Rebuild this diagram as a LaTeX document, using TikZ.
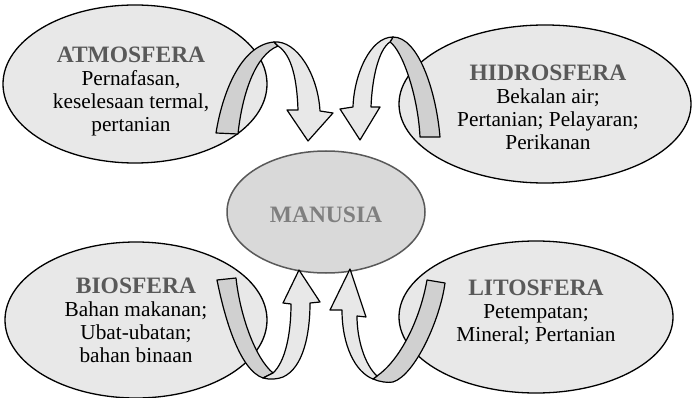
\documentclass[tikz,border=0pt]{standalone}
\usepackage{fontspec}
\setmainfont{Liberation Serif}
\usetikzlibrary{shapes.geometric}

\definecolor{sphereFill}{HTML}{E8E8E8}
\definecolor{humanFill}{HTML}{D9D9D9}
\definecolor{humanLine}{HTML}{595959}
\definecolor{titleGray}{HTML}{595959}
\definecolor{humanText}{HTML}{7F7F7F}
\definecolor{bandLight}{HTML}{E8E8E8}
\definecolor{bandDark}{HTML}{D0D0D0}

\newcommand{\spheretitle}[1]{{\fontsize{23.5}{23}\selectfont\bfseries\color{titleGray}#1}}

\begin{document}
\begin{tikzpicture}[
    x=1pt, y=-1pt,
    % Styles
    sphere/.style={ % Outer ellipse
        ellipse,
        draw,
        line width=1.3pt,
        fill=sphereFill,
        inner sep=0pt
    },
    spheretext/.style={ % Text inside an outer ellipse
        inner sep=0pt,
        align=center,
        font=\fontsize{21.3}{23}\selectfont
    },
    human/.style={ % Centre ellipse
        ellipse,
        draw=humanLine,
        line width=1.5pt,
        fill=humanFill,
        inner sep=0pt
    },
    front/.style={ % Front face of a curved arrow
        draw,
        line width=1.2pt,
        line join=round,
        fill=bandLight
    },
    back/.style={ % Back face of a curved arrow
        front,
        fill=bandDark
    }
]
    \useasboundingbox (0,0) rectangle (692,398);

    % Spheres
    \node[sphere, minimum width=264pt, minimum height=158pt] (atmo) at (135,84) {};
    \node[sphere, minimum width=292pt, minimum height=158pt] (hidro) at (545,104) {};
    \node[sphere, minimum width=262pt, minimum height=156pt] (bio) at (136,320) {};
    \node[sphere, minimum width=274pt, minimum height=152pt] (lito) at (536,317) {};

    \node[spheretext] (atmotext) at (131,91)
        {\spheretitle{ATMOSFERA}\\Pernafasan,\\keselesaan termal,\\pertanian};
    \node[spheretext] (hidrotext) at (548,107)
        {\spheretitle{HIDROSFERA}\\Bekalan air;\\Pertanian; Pelayaran;\\Perikanan};
    \node[spheretext] (biotext) at (136,320)
        {\spheretitle{BIOSFERA}\\Bahan makanan;\\Ubat-ubatan;\\bahan binaan};
    \node[spheretext] (litotext) at (536,312)
        {\spheretitle{LITOSFERA}\\Petempatan;\\Mineral; Pertanian};

    % Human
    \node[human, minimum width=198pt, minimum height=122pt] (manusia) at (326,212) {};
    \node[text=humanText, font=\fontsize{23.5}{23}\selectfont\bfseries] (manusiatext) at (326,215) {MANUSIA};

    % Atmosfera -> Manusia
    \draw[back] (216,133) .. controls (222,95) and (240,45) .. (274,42) -- (278,46)
        .. controls (255,55) and (242,95) .. (238,134) -- cycle;
    \draw[front] (274,42) .. controls (297,40) and (318,75) .. (320,111) -- (333,113)
        -- (308,141) -- (287,110) -- (298,110) .. controls (297,80) and (292,55) .. (278,46) -- cycle;

    % Hidrosfera -> Manusia
    \draw[back] (440,137) .. controls (436,90) and (418,37) .. (393,37) -- (390,42)
        .. controls (402,50) and (418,95) .. (420,137) -- cycle;
    \draw[front] (393,37) .. controls (370,37) and (354,75) .. (353,107) -- (340,109)
        -- (360,140) -- (380,107) -- (371,107) .. controls (372,80) and (378,50) .. (390,42) -- cycle;

    % Biosfera -> Manusia
    \draw[back] (217,280) .. controls (225,320) and (240,370) .. (263,378) -- (273,373)
        .. controls (255,358) and (240,315) .. (236,278) -- cycle;
    \draw[front] (263,378) .. controls (270,380) and (278,379) .. (283,377)
        .. controls (303,368) and (310,335) .. (310,303) -- (320,302) -- (299,270) -- (283,303)
        -- (291,304) .. controls (291,335) and (285,362) .. (273,373) -- cycle;

    % Litosfera -> Manusia
    \draw[back] (373,379) .. controls (380,382) and (388,383) .. (393,382)
        .. controls (415,375) and (440,320) .. (445,283) -- (427,280)
        .. controls (420,320) and (400,360) .. (377,376) -- cycle;
    \draw[front] (342,310) .. controls (342,345) and (355,372) .. (373,379) -- (377,376)
        .. controls (365,365) and (357,340) .. (357,316) -- (366,317) -- (350,269) -- (330,310) -- cycle;
\end{tikzpicture}
\end{document}
